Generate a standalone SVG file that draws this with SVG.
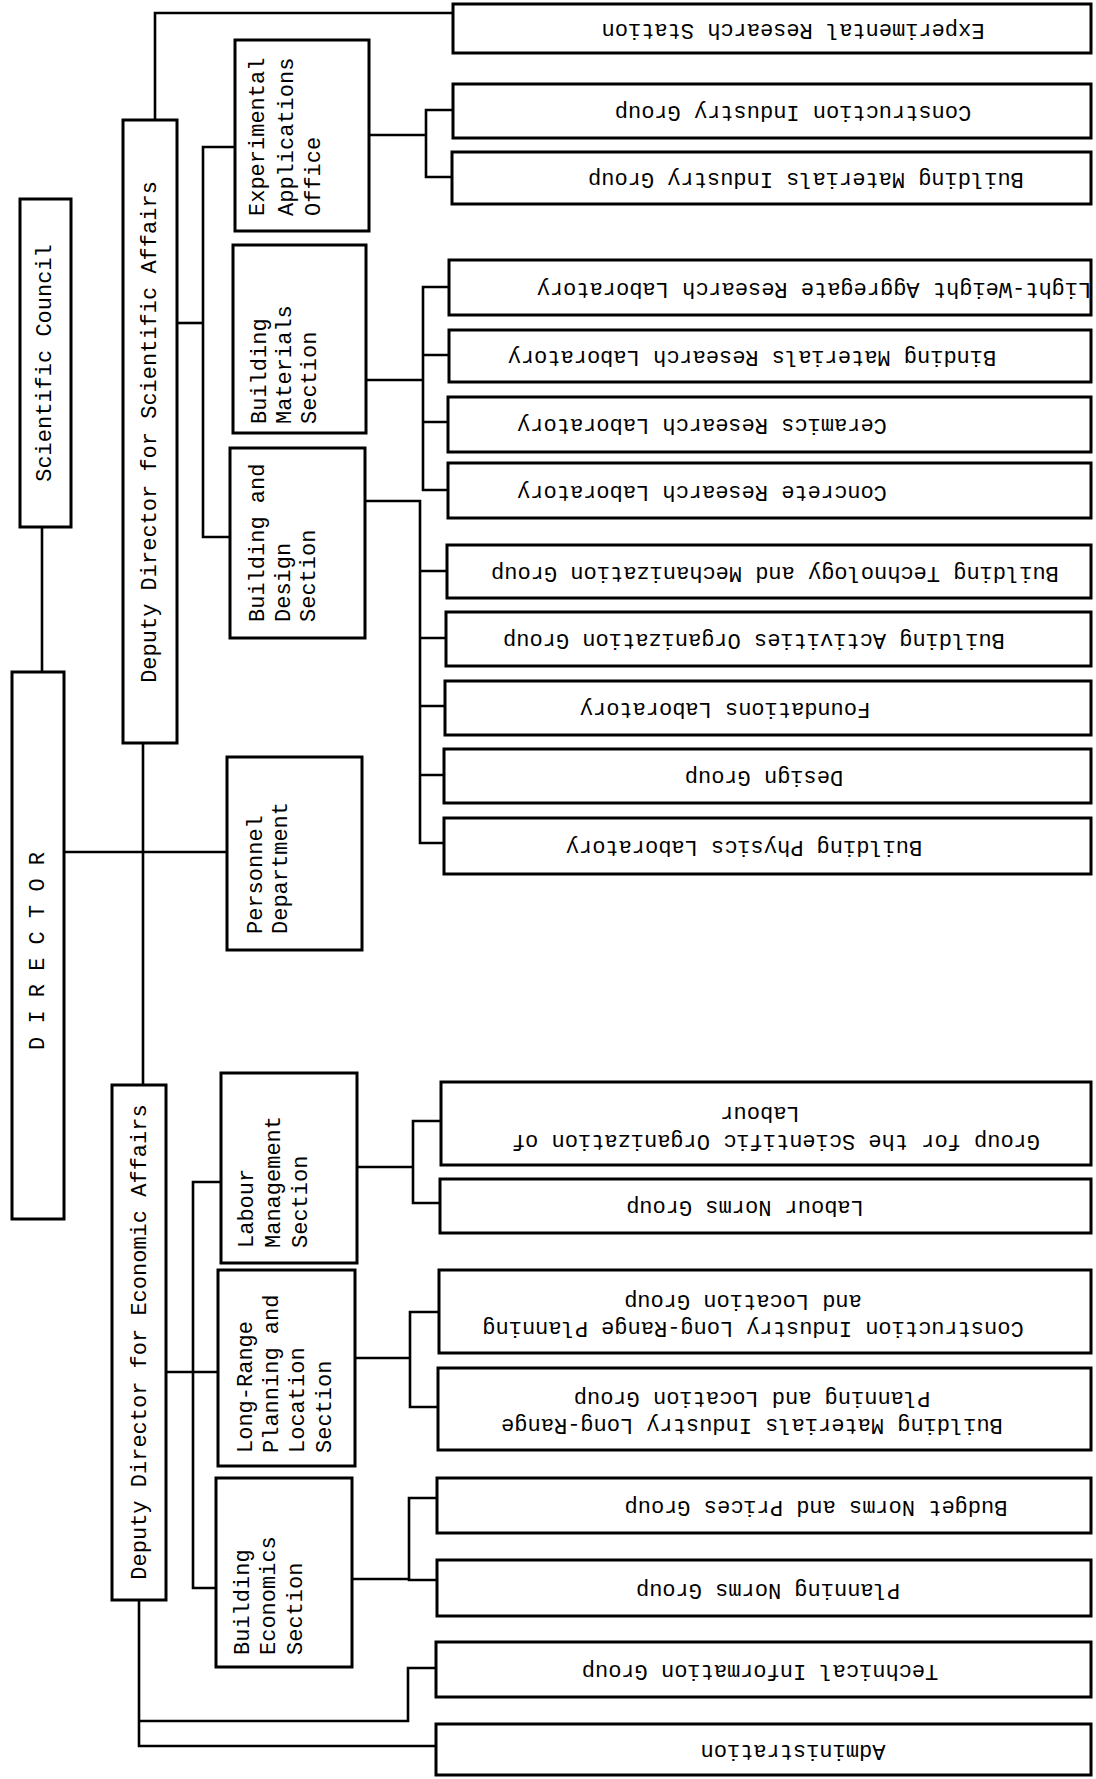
<svg xmlns="http://www.w3.org/2000/svg" width="1096" height="1779" viewBox="0 0 1096 1779">
<style>
.box{fill:#fff;stroke:#000;stroke-width:3}
.ln{fill:none;stroke:#000;stroke-width:2.6}
.t{font-family:"Liberation Mono","Courier New",monospace;font-size:22px;fill:#000;dominant-baseline:central}
.m{text-anchor:middle}
</style>
<rect width="1096" height="1779" fill="#fff"/>
<g id="connectors">
<path class="ln" d="M42 527V672"/>
<path class="ln" d="M64 852H227"/>
<path class="ln" d="M143 743V1085"/>
<path class="ln" d="M155 120V13H453"/>
<path class="ln" d="M177 323H203"/>
<path class="ln" d="M235 147H203V537H230"/>
<path class="ln" d="M369 135H426"/>
<path class="ln" d="M453 110H426V177H452"/>
<path class="ln" d="M366 380H423"/>
<path class="ln" d="M449 287H423V490H448"/>
<path class="ln" d="M423 355H449M423 422H448"/>
<path class="ln" d="M365 501H420V843H444"/>
<path class="ln" d="M420 571H447M420 638H446M420 706H445M420 775H444"/>
<path class="ln" d="M165 1372H218"/>
<path class="ln" d="M221 1182H193V1588H216"/>
<path class="ln" d="M357 1167H413"/>
<path class="ln" d="M441 1121H413V1203H440"/>
<path class="ln" d="M355 1358H410"/>
<path class="ln" d="M439 1312H410V1407H438"/>
<path class="ln" d="M352 1579H409"/>
<path class="ln" d="M437 1498H409V1580H437"/>
<path class="ln" d="M139 1600V1746H436"/>
<path class="ln" d="M139 1721H408V1668H436"/>
</g>
<g id="scientific-council">
<rect class="box" x="20" y="199" width="51" height="328"/>
<text class="t m" transform="translate(45,363) rotate(-90)">Scientific Council</text>
</g>
<g id="director">
<rect class="box" x="12" y="672" width="52" height="547"/>
<text class="t m" transform="translate(38,951) rotate(-90)">D I R E C T O R</text>
</g>
<g id="deputy-scientific">
<rect class="box" x="123" y="120" width="54" height="623"/>
<text class="t m" transform="translate(150,432) rotate(-90)">Deputy Director for Scientific Affairs</text>
</g>
<g id="deputy-economic">
<rect class="box" x="112" y="1085" width="54" height="515"/>
<text class="t m" transform="translate(140,1342) rotate(-90)">Deputy Director for Economic Affairs</text>
</g>
<g id="exp-applications-office">
<rect class="box" x="235" y="40" width="134" height="191"/>
<text class="t" transform="translate(258,216) rotate(-90)">Experimental</text>
<text class="t" transform="translate(287,216) rotate(-90)">Applications</text>
<text class="t" transform="translate(314,216) rotate(-90)">Office</text>
</g>
<g id="building-materials-section">
<rect class="box" x="233" y="245" width="133" height="188"/>
<text class="t" transform="translate(260,424) rotate(-90)">Building</text>
<text class="t" transform="translate(285,424) rotate(-90)">Materials</text>
<text class="t" transform="translate(310,424) rotate(-90)">Section</text>
</g>
<g id="building-design-section">
<rect class="box" x="230" y="448" width="135" height="190"/>
<text class="t" transform="translate(258,622) rotate(-90)">Building and</text>
<text class="t" transform="translate(284,622) rotate(-90)">Design</text>
<text class="t" transform="translate(309,622) rotate(-90)">Section</text>
</g>
<g id="personnel-department">
<rect class="box" x="227" y="757" width="135" height="193"/>
<text class="t" transform="translate(256,934) rotate(-90)">Personnel</text>
<text class="t" transform="translate(281,934) rotate(-90)">Department</text>
</g>
<g id="labour-management-section">
<rect class="box" x="221" y="1073" width="136" height="190"/>
<text class="t" transform="translate(247,1248) rotate(-90)">Labour</text>
<text class="t" transform="translate(274,1248) rotate(-90)">Management</text>
<text class="t" transform="translate(301,1248) rotate(-90)">Section</text>
</g>
<g id="long-range-planning-section">
<rect class="box" x="218" y="1270" width="137" height="196"/>
<text class="t" transform="translate(246,1453) rotate(-90)">Long-Range</text>
<text class="t" transform="translate(272,1453) rotate(-90)">Planning and</text>
<text class="t" transform="translate(298,1453) rotate(-90)">Location</text>
<text class="t" transform="translate(325,1453) rotate(-90)">Section</text>
</g>
<g id="building-economics-section">
<rect class="box" x="216" y="1478" width="136" height="189"/>
<text class="t" transform="translate(243,1655) rotate(-90)">Building</text>
<text class="t" transform="translate(269,1655) rotate(-90)">Economics</text>
<text class="t" transform="translate(296,1655) rotate(-90)">Section</text>
</g>
<g id="experimental-research-station">
<rect class="box" x="453" y="4" width="638" height="49"/>
<text class="t m" transform="translate(793,29) rotate(180)">Experimental Research Station</text>
</g>
<g id="construction-industry-group">
<rect class="box" x="453" y="84" width="638" height="54"/>
<text class="t m" transform="translate(793,111) rotate(180)">Construction Industry Group</text>
</g>
<g id="building-materials-industry-group">
<rect class="box" x="452" y="152" width="639" height="52"/>
<text class="t m" transform="translate(806,178) rotate(180)">Building Materials Industry Group</text>
</g>
<g id="light-weight-aggregate-lab">
<rect class="box" x="449" y="260" width="642" height="55"/>
<text class="t m" transform="translate(814,288) rotate(180)">Light-Weight Aggregate Research Laboratory</text>
</g>
<g id="binding-materials-lab">
<rect class="box" x="449" y="330" width="642" height="52"/>
<text class="t m" transform="translate(752,356) rotate(180)">Binding Materials Research Laboratory</text>
</g>
<g id="ceramics-lab">
<rect class="box" x="448" y="397" width="643" height="55"/>
<text class="t m" transform="translate(702,424) rotate(180)">Ceramics Research Laboratory</text>
</g>
<g id="concrete-lab">
<rect class="box" x="448" y="463" width="643" height="55"/>
<text class="t m" transform="translate(702,491) rotate(180)">Concrete Research Laboratory</text>
</g>
<g id="building-technology-group">
<rect class="box" x="447" y="545" width="644" height="53"/>
<text class="t m" transform="translate(775,572) rotate(180)">Building Technology and Mechanization Group</text>
</g>
<g id="building-activities-group">
<rect class="box" x="446" y="612" width="645" height="54"/>
<text class="t m" transform="translate(754,639) rotate(180)">Building Activities Organization Group</text>
</g>
<g id="foundations-lab">
<rect class="box" x="445" y="681" width="646" height="54"/>
<text class="t m" transform="translate(725,708) rotate(180)">Foundations Laboratory</text>
</g>
<g id="design-group">
<rect class="box" x="444" y="749" width="647" height="54"/>
<text class="t m" transform="translate(764,776) rotate(180)">Design Group</text>
</g>
<g id="building-physics-lab">
<rect class="box" x="444" y="818" width="647" height="56"/>
<text class="t m" transform="translate(744,846) rotate(180)">Building Physics Laboratory</text>
</g>
<g id="scientific-organization-labour-group">
<rect class="box" x="441" y="1082" width="650" height="83"/>
<text class="t m" transform="translate(776,1140) rotate(180)">Group for the Scientific Organization of</text>
<text class="t m" transform="translate(760,1112) rotate(180)">Labour</text>
</g>
<g id="labour-norms-group">
<rect class="box" x="440" y="1179" width="651" height="54"/>
<text class="t m" transform="translate(745,1206) rotate(180)">Labour Norms Group</text>
</g>
<g id="construction-industry-planning-group">
<rect class="box" x="439" y="1270" width="652" height="83"/>
<text class="t m" transform="translate(753,1327) rotate(180)">Construction Industry Long-Range Planning</text>
<text class="t m" transform="translate(743,1300) rotate(180)">and Location Group</text>
</g>
<g id="building-materials-planning-group">
<rect class="box" x="438" y="1368" width="653" height="82"/>
<text class="t m" transform="translate(752,1424) rotate(180)">Building Materials Industry Long-Range</text>
<text class="t m" transform="translate(752,1397) rotate(180)">Planning and Location Group</text>
</g>
<g id="budget-norms-group">
<rect class="box" x="437" y="1478" width="654" height="55"/>
<text class="t m" transform="translate(816,1506) rotate(180)">Budget Norms and Prices Group</text>
</g>
<g id="planning-norms-group">
<rect class="box" x="437" y="1560" width="654" height="56"/>
<text class="t m" transform="translate(768,1589) rotate(180)">Planning Norms Group</text>
</g>
<g id="technical-information-group">
<rect class="box" x="436" y="1642" width="655" height="55"/>
<text class="t m" transform="translate(760,1670) rotate(180)">Technical Information Group</text>
</g>
<g id="administration">
<rect class="box" x="436" y="1724" width="655" height="51"/>
<text class="t m" transform="translate(793,1750) rotate(180)">Administration</text>
</g>
</svg>
